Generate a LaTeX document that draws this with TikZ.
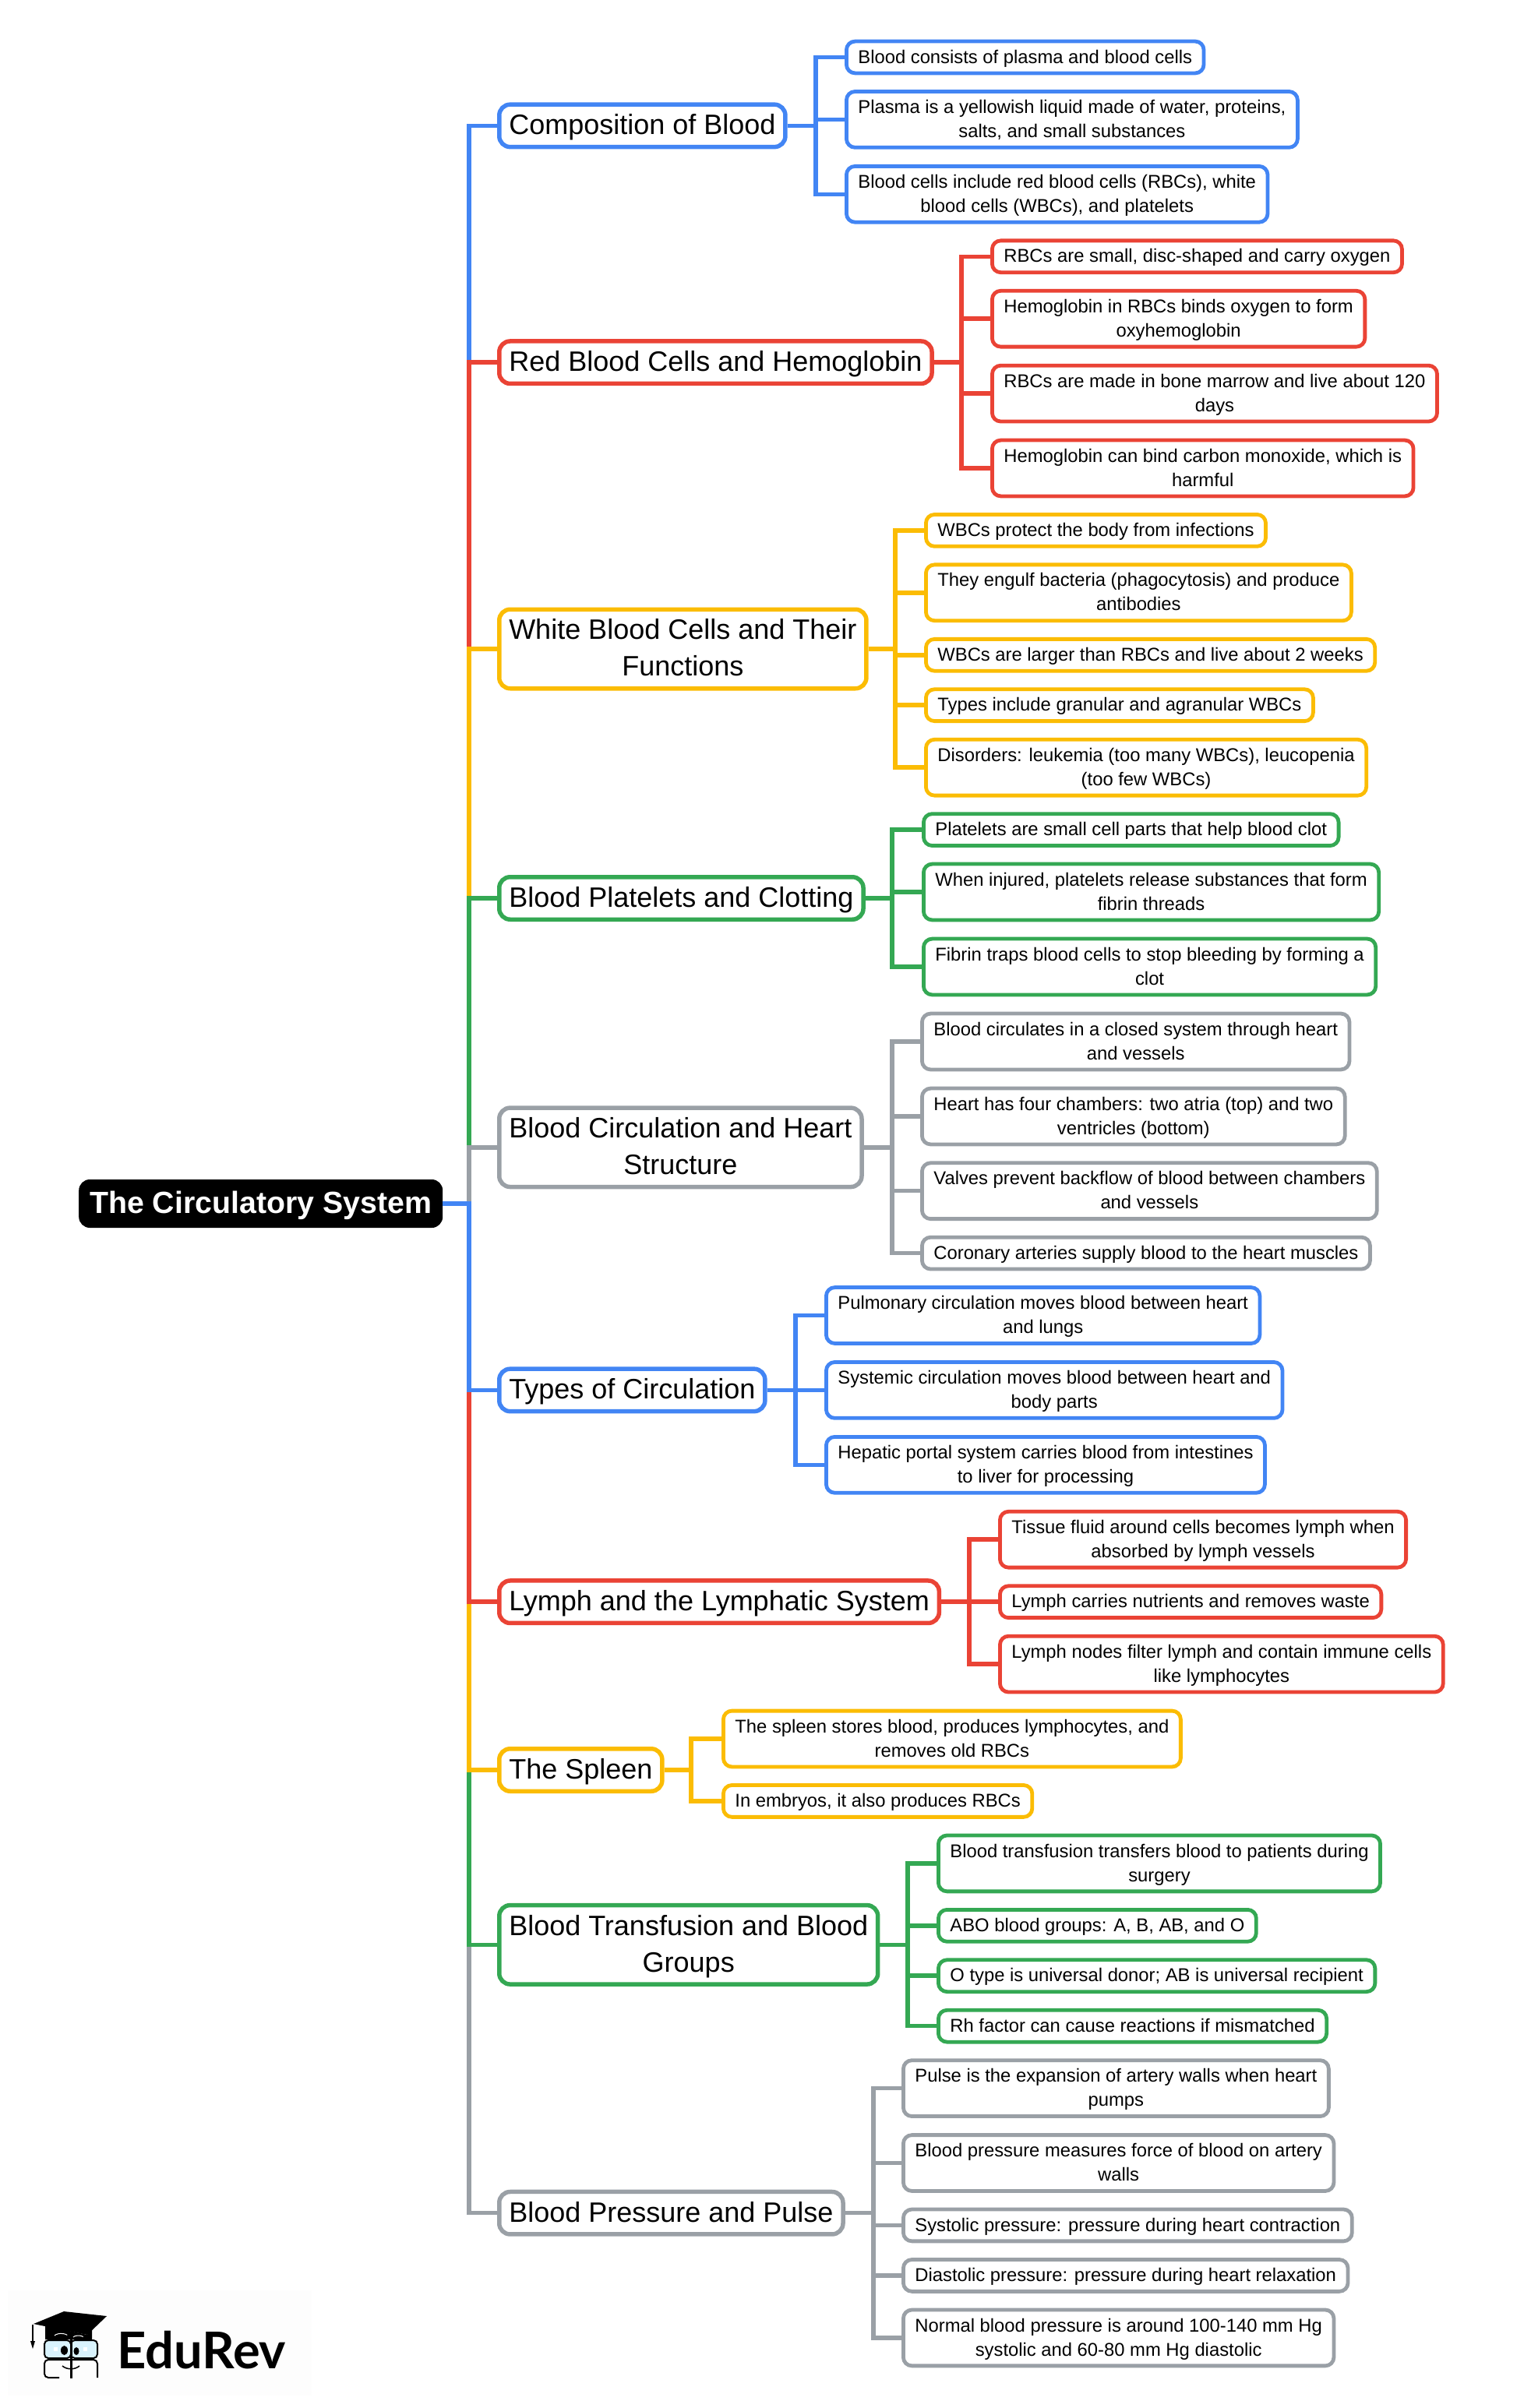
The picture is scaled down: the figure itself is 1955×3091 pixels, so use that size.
\documentclass[tikz,border=0pt]{standalone}
\usepackage{fontspec}
\setmainfont{Liberation Sans}
\newfontfamily\logofont{Lato}
\definecolor{gblue}{HTML}{4285F4}
\definecolor{gred}{HTML}{EA4335}
\definecolor{gyellow}{HTML}{FBBC04}
\definecolor{ggreen}{HTML}{34A853}
\definecolor{ggray}{HTML}{9AA0A6}
\tikzset{
  rootbox/.style={fill=black,text=white,rounded corners=14pt,anchor=west,align=center,inner xsep=14pt,
    minimum height=62pt,text depth=3pt,font=\fontsize{39.3}{47}\selectfont\bfseries},
  mainbox/.style={draw=#1,fill=white,line width=5.5pt,rounded corners=14pt,anchor=west,align=center,
    inner xsep=12.5pt,inner ysep=12.5pt,text depth=3.4pt,font=\fontsize{36}{47}\selectfont},
  leafbox/.style={draw=#1,fill=white,line width=4.8pt,rounded corners=11pt,anchor=west,align=center,
    inner xsep=15pt,inner ysep=10.8pt,text depth=2pt,font=\fontsize{23.8}{31}\selectfont},
  link/.style={draw=#1,line width=5.5pt},
}
\begin{document}
\begin{tikzpicture}[x=1pt,y=-1pt]
\useasboundingbox (0,0) rectangle (1955,3091);
\node[rootbox] (root) at (101,1545) {The Circulatory System};
\coordinate (spine) at (602,1545);
% main topics
\node[mainbox=gblue] (comp) at (638,161.4) {Composition of Blood};
\node[mainbox=gred] (red) at (638,465.2) {Red Blood Cells and Hemoglobin};
\node[mainbox=gyellow] (white) at (638,833) {White Blood Cells and Their\\Functions};
\node[mainbox=ggreen] (plat) at (638,1153) {Blood Platelets and Clotting};
\node[mainbox=ggray] (circ) at (638,1472.8) {Blood Circulation and Heart\\Structure};
\node[mainbox=gblue] (types) at (638,1784.4) {Types of Circulation};
\node[mainbox=gred] (lymph) at (638,2056.2) {Lymph and the Lymphatic System};
\node[mainbox=gyellow] (spleen) at (638,2272) {The Spleen};
\node[mainbox=ggreen] (trans) at (638,2496.3) {Blood Transfusion and Blood\\Groups};
\node[mainbox=ggray] (press) at (638,2840.7) {Blood Pressure and Pulse};
% root to main topics, the later ones lie on top
\foreach \n/\c in {comp/gblue,red/gred,white/gyellow,plat/ggreen,circ/ggray,press/ggray,trans/ggreen,spleen/gyellow,lymph/gred,types/gblue} {
    \draw[link=\c] (root.east) -- (spine) |- (\n.west);
}
% leaves
\node[leafbox=gblue] (compa) at (1084,73.5) {Blood consists of plasma and blood cells};
\node[leafbox=gblue] (compb) at (1084,153.4) {Plasma is a yellowish liquid made of water, proteins,\\salts, and small substances};
\node[leafbox=gblue] (compc) at (1084,249.3) {Blood cells include red blood cells (RBCs), white\\blood cells (WBCs), and platelets};
\node[leafbox=gred] (reda) at (1271,329.3) {RBCs are small, disc-shaped and carry oxygen};
\node[leafbox=gred] (redb) at (1271,409.2) {Hemoglobin in RBCs binds oxygen to form\\oxyhemoglobin};
\node[leafbox=gred] (redc) at (1271,505.1) {RBCs are made in bone marrow and live about 120\\days};
\node[leafbox=gred] (redd) at (1271,601) {Hemoglobin can bind carbon monoxide, which is\\harmful};
\node[leafbox=gyellow] (whitea) at (1186,680.9) {WBCs protect the body from infections};
\node[leafbox=gyellow] (whiteb) at (1186,760.8) {They engulf bacteria (phagocytosis) and produce\\antibodies};
\node[leafbox=gyellow] (whitec) at (1186,840.8) {WBCs are larger than RBCs and live about 2 weeks};
\node[leafbox=gyellow] (whited) at (1186,905.2) {Types include granular and agranular WBCs};
\node[leafbox=gyellow] (whitee) at (1186,985.2) {Disorders: leukemia (too many WBCs), leucopenia\\(too few WBCs)};
\node[leafbox=ggreen] (plata) at (1183,1065.1) {Platelets are small cell parts that help blood clot};
\node[leafbox=ggreen] (platb) at (1183,1145) {When injured, platelets release substances that form\\fibrin threads};
\node[leafbox=ggreen] (platc) at (1183,1241) {Fibrin traps blood cells to stop bleeding by forming a\\clot};
\node[leafbox=ggray] (circa) at (1181,1337) {Blood circulates in a closed system through heart\\and vessels};
\node[leafbox=ggray] (circb) at (1181,1433) {Heart has four chambers: two atria (top) and two\\ventricles (bottom)};
\node[leafbox=ggray] (circc) at (1181,1528.7) {Valves prevent backflow of blood between chambers\\and vessels};
\node[leafbox=ggray] (circd) at (1181,1608.6) {Coronary arteries supply blood to the heart muscles};
\node[leafbox=gblue] (typesa) at (1058,1688.5) {Pulmonary circulation moves blood between heart\\and lungs};
\node[leafbox=gblue] (typesb) at (1058,1784.4) {Systemic circulation moves blood between heart and\\body parts};
\node[leafbox=gblue] (typesc) at (1058,1880.3) {Hepatic portal system carries blood from intestines\\to liver for processing};
\node[leafbox=gred] (lympha) at (1281,1976.2) {Tissue fluid around cells becomes lymph when\\absorbed by lymph vessels};
\node[leafbox=gred] (lymphb) at (1281,2056.2) {Lymph carries nutrients and removes waste};
\node[leafbox=gred] (lymphc) at (1281,2136.1) {Lymph nodes filter lymph and contain immune cells\\like lymphocytes};
\node[leafbox=gyellow] (spleena) at (926,2232) {The spleen stores blood, produces lymphocytes, and\\removes old RBCs};
\node[leafbox=gyellow] (spleenb) at (926,2311.9) {In embryos, it also produces RBCs};
\node[leafbox=ggreen] (transa) at (1202,2391.9) {Blood transfusion transfers blood to patients during\\surgery};
\node[leafbox=ggreen] (transb) at (1202,2471.8) {ABO blood groups: A, B, AB, and O};
\node[leafbox=ggreen] (transc) at (1202,2536.2) {O type is universal donor; AB is universal recipient};
\node[leafbox=ggreen] (transd) at (1202,2600.7) {Rh factor can cause reactions if mismatched};
\node[leafbox=ggray] (pressa) at (1157,2680.6) {Pulse is the expansion of artery walls when heart\\pumps};
\node[leafbox=ggray] (pressb) at (1157,2776.5) {Blood pressure measures force of blood on artery\\walls};
\node[leafbox=ggray] (pressc) at (1157,2856.4) {Systolic pressure: pressure during heart contraction};
\node[leafbox=ggray] (pressd) at (1157,2920.9) {Diastolic pressure: pressure during heart relaxation};
\node[leafbox=ggray] (presse) at (1157,3000.9) {Normal blood pressure is around 100-140 mm Hg\\systolic and 60-80 mm Hg diastolic};
% main topics to leaves
\coordinate (compbus) at (1047,161.4);
\coordinate (redbus) at (1234,465.2);
\coordinate (whitebus) at (1149,833);
\coordinate (platbus) at (1145,1153);
\coordinate (circbus) at (1145,1472.8);
\coordinate (typesbus) at (1021,1784.4);
\coordinate (lymphbus) at (1244,2056.2);
\coordinate (spleenbus) at (887,2272);
\coordinate (transbus) at (1165,2496.3);
\coordinate (pressbus) at (1121,2840.7);
\foreach \n in {compa,compb,compc} \draw[link=gblue] (comp.east) -- (compbus) |- (\n.west);
\foreach \n in {reda,redb,redc,redd} \draw[link=gred] (red.east) -- (redbus) |- (\n.west);
\foreach \n in {whitea,whiteb,whitec,whited,whitee} \draw[link=gyellow] (white.east) -- (whitebus) |- (\n.west);
\foreach \n in {plata,platb,platc} \draw[link=ggreen] (plat.east) -- (platbus) |- (\n.west);
\foreach \n in {circa,circb,circc,circd} \draw[link=ggray] (circ.east) -- (circbus) |- (\n.west);
\foreach \n in {typesa,typesb,typesc} \draw[link=gblue] (types.east) -- (typesbus) |- (\n.west);
\foreach \n in {lympha,lymphb,lymphc} \draw[link=gred] (lymph.east) -- (lymphbus) |- (\n.west);
\foreach \n in {spleena,spleenb} \draw[link=gyellow] (spleen.east) -- (spleenbus) |- (\n.west);
\foreach \n in {transa,transb,transc,transd} \draw[link=ggreen] (trans.east) -- (transbus) |- (\n.west);
\foreach \n in {pressa,pressb,pressc,pressd,presse} \draw[link=ggray] (press.east) -- (pressbus) |- (\n.west);
% logo
\fill[black!0.7] (10,2940) rectangle (400,3075);
\fill (82,2967) -- (137,2973) -- (112,2997) -- (43,2983) -- cycle;
\fill (58,2985) -- (112,2997) -- (118,2988) -- (118,3003) -- (58,3003) -- cycle;
\draw[line width=1.2pt] (42,2984) -- (42,3006);
\fill (39,3005) -- (45,3005) -- (42,3015) -- cycle;
\draw[white,line width=1pt] (70,2998) arc[start angle=160,end angle=30,x radius=9pt,y radius=4pt];
\draw[white,line width=1pt] (94,3000) arc[start angle=160,end angle=30,x radius=7pt,y radius=3pt];
\draw[fill=cyan!15,line width=2pt,rounded corners=5pt] (57,3004) rectangle (91,3027);
\draw[fill=cyan!15,line width=2pt,rounded corners=5pt] (91,3004) rectangle (125,3027);
\draw[line width=2pt,rounded corners=5pt] (76,3052) -- (57,3052) -- (57,3029) -- (125,3029) -- (125,3052);
\draw[line width=3pt] (91,3003) -- (91,3053);
\fill (82.5,3017) ellipse[x radius=4.5pt,y radius=6pt];
\fill (98,3018) ellipse[x radius=3.5pt,y radius=5pt];
\fill[white] (69,3013) rectangle (74,3018);
\fill[white] (107,3013) rectangle (112,3018);
\draw[line width=1.5pt] (80,3037) .. controls (86,3042) and (96,3042) .. (102,3037);
\node[anchor=west,inner sep=0pt,font=\fontsize{65}{65}\selectfont\logofont\bfseries] (logotext) at (150,3017) {EduRev};
\end{tikzpicture}
\end{document}
